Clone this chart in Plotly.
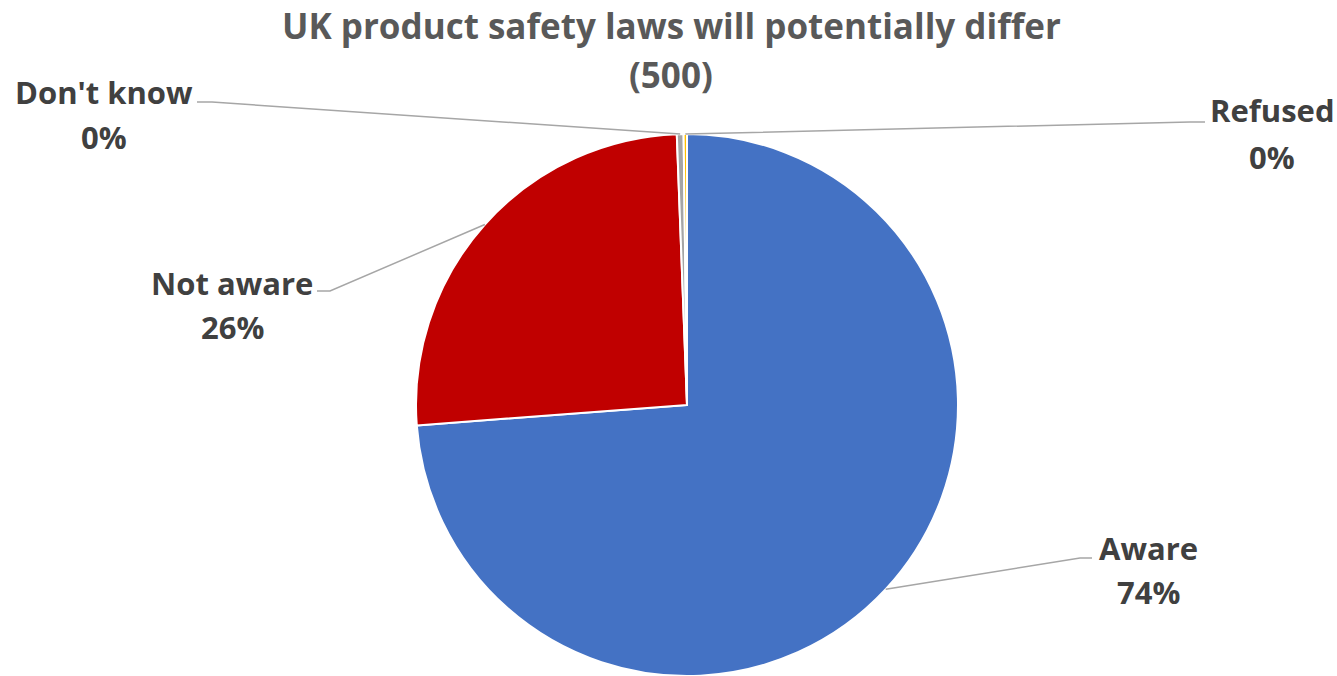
import math
import plotly.graph_objects as go

# ---- data ----
categories = ["Aware", "Not aware", "Don't know", "Refused"]
counts = [369, 128, 2, 1]
colors = ["#4472C4", "#C00000", "#A5A5A5", "#FFC000"]
title_lines = ["UK product safety laws will potentially differ", "(500)"]

# ---- layout constants (pixels) ----
W, H = 1337, 676
CX, CY, R = 687, 405, 271
FONT = "Open Sans"
LABEL_SIZE = 31
TITLE_SIZE = 35

# label anchor (name line centre x, name line centre y, pct line centre y) and elbow/end of leader
label_pos = {
    "Aware":      dict(x=1148, y1=548, y2=592, elbow=(1080, 558), end=(1092, 558)),
    "Not aware":  dict(x=232,  y1=283, y2=327, elbow=(330, 291),  end=(317, 291)),
    "Don't know": dict(x=104,  y1=92,  y2=137, elbow=(212, 102),  end=(197, 102)),
    "Refused":    dict(x=1272, y1=110, y2=157, elbow=(1190, 122), end=(1205, 122)),
}

def px(x):
    return x / W

def py(y):
    return 1 - y / H

total = sum(counts)
fig = go.Figure(go.Pie(
    labels=categories,
    values=counts,
    marker=dict(colors=colors, line=dict(color="white", width=2)),
    sort=False,
    direction="clockwise",
    rotation=0,
    textinfo="none",
    hoverinfo="label+percent",
    domain=dict(x=[px(CX - R), px(CX + R)], y=[py(CY + R), py(CY - R)]),
    showlegend=False,
))

annotations = []
shapes = []
cum = 0
for cat, v in zip(categories, counts):
    frac = v / total
    mid = (cum + frac / 2) * 2 * math.pi
    cum += frac
    ex = CX + R * math.sin(mid)
    ey = CY - R * math.cos(mid)
    lp = label_pos[cat]
    # leader line: edge -> elbow -> end
    shapes.append(dict(type="path",
                       path=f"M {px(ex)},{py(ey)} L {px(lp['elbow'][0])},{py(lp['elbow'][1])} L {px(lp['end'][0])},{py(lp['end'][1])}",
                       xref="paper", yref="paper",
                       line=dict(color="#A6A6A6", width=1.5)))
    annotations.append(dict(x=px(lp["x"]), y=py(lp["y1"]), xref="paper", yref="paper",
                            text=f"<b>{cat}</b>", showarrow=False, xanchor="center", yanchor="middle",
                            font=dict(family=FONT, size=LABEL_SIZE, color="#404040")))
    annotations.append(dict(x=px(lp["x"]), y=py(lp["y2"]), xref="paper", yref="paper",
                            text=f"<b>{round(frac * 100)}%</b>", showarrow=False, xanchor="center", yanchor="middle",
                            font=dict(family=FONT, size=LABEL_SIZE, color="#404040")))

annotations.append(dict(x=px(671), y=py(26), xref="paper", yref="paper", text=f"<b>{title_lines[0]}</b>",
                        showarrow=False, xanchor="center", yanchor="middle",
                        font=dict(family=FONT, size=TITLE_SIZE, color="#595959")))
annotations.append(dict(x=px(671), y=py(75), xref="paper", yref="paper", text=f"<b>{title_lines[1]}</b>",
                        showarrow=False, xanchor="center", yanchor="middle",
                        font=dict(family=FONT, size=TITLE_SIZE, color="#595959")))

fig.update_layout(
    width=W, height=H,
    margin=dict(l=0, r=0, t=0, b=0),
    paper_bgcolor="white", plot_bgcolor="white",
    annotations=annotations, shapes=shapes,
)

fig.write_html("out.html", config={"displayModeBar": False})
